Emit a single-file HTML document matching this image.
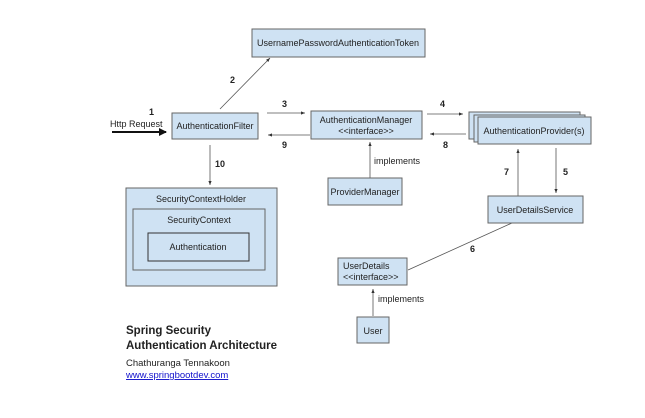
<!DOCTYPE html>
<html><head><meta charset="utf-8"><style>
body{margin:0;background:#fff;}
svg text{font-family:"Liberation Sans",Arial,sans-serif;font-size:9px;fill:#222}
.b{fill:#cfe2f3;stroke:#666;stroke-width:1}
.n{font-weight:bold;font-size:9px}
</style></head><body>
<svg width="645" height="413" viewBox="0 0 645 413" xmlns="http://www.w3.org/2000/svg">
<defs><marker id="a" markerWidth="6" markerHeight="6" refX="5" refY="3" orient="auto"><path d="M0,1 L5,3 L0,5z" fill="#333"/></marker>
<marker id="A" markerWidth="4" markerHeight="4" refX="3.5" refY="2" orient="auto"><path d="M0,0 L4,2 L0,4z" fill="#111"/></marker></defs>
<g stroke="#555" stroke-width="0.8" fill="none">
<line x1="220" y1="109" x2="270" y2="58" marker-end="url(#a)"/>
<line x1="267" y1="113" x2="305" y2="113" marker-end="url(#a)"/>
<line x1="310" y1="135" x2="268" y2="135" marker-end="url(#a)"/>
<line x1="427" y1="114" x2="463" y2="114" marker-end="url(#a)"/>
<line x1="466" y1="134" x2="430" y2="134" marker-end="url(#a)"/>
<line x1="518" y1="196" x2="518" y2="149" marker-end="url(#a)"/>
<line x1="556" y1="148" x2="556" y2="193" marker-end="url(#a)"/>
<line x1="512" y1="223" x2="408" y2="270"/>
<line x1="370" y1="178" x2="370" y2="142" marker-end="url(#a)"/>
<line x1="373" y1="316" x2="373" y2="289" marker-end="url(#a)"/>
<line x1="210" y1="145" x2="210" y2="185" marker-end="url(#a)"/>
</g>
<line x1="112" y1="132" x2="166" y2="132" stroke="#111" stroke-width="2" marker-end="url(#A)"/>
<rect class="b" x="252" y="29" width="173" height="28"/>
<text x="338" y="46" text-anchor="middle">UsernamePasswordAuthenticationToken</text>
<rect class="b" x="172" y="113" width="86" height="26"/>
<text x="215" y="129" text-anchor="middle">AuthenticationFilter</text>
<rect class="b" x="311" y="111" width="111" height="28"/>
<text x="366" y="123" text-anchor="middle">AuthenticationManager</text>
<text x="366" y="134" text-anchor="middle">&lt;&lt;interface&gt;&gt;</text>
<rect class="b" x="328" y="178" width="74" height="27"/>
<text x="365" y="195" text-anchor="middle">ProviderManager</text>
<rect class="b" x="469" y="112" width="111" height="27"/>
<rect class="b" x="474" y="115" width="111" height="27"/>
<rect class="b" x="478" y="117" width="113" height="27"/>
<text x="534" y="134" text-anchor="middle">AuthenticationProvider(s)</text>
<rect class="b" x="488" y="196" width="95" height="27"/>
<text x="535" y="213" text-anchor="middle">UserDetailsService</text>
<rect class="b" x="338" y="258" width="69" height="27"/>
<text x="343" y="269">UserDetails</text>
<text x="343" y="280">&lt;&lt;interface&gt;&gt;</text>
<rect class="b" x="357" y="317" width="32" height="26"/>
<text x="373" y="334" text-anchor="middle">User</text>
<rect class="b" x="126" y="188" width="151" height="98"/>
<text x="201" y="202" text-anchor="middle">SecurityContextHolder</text>
<rect class="b" x="133" y="209" width="132" height="61"/>
<text x="199" y="223" text-anchor="middle">SecurityContext</text>
<rect x="148" y="233" width="101" height="28" fill="#cfe2f3" stroke="#333"/>
<text x="198" y="250" text-anchor="middle">Authentication</text>
<text class="n" x="149" y="115">1</text>
<text x="110" y="127">Http Request</text>
<text class="n" x="230" y="83">2</text>
<text class="n" x="282" y="107">3</text>
<text class="n" x="282" y="148">9</text>
<text class="n" x="215" y="167">10</text>
<text class="n" x="440" y="107">4</text>
<text class="n" x="443" y="148">8</text>
<text class="n" x="504" y="175">7</text>
<text class="n" x="563" y="175">5</text>
<text class="n" x="470" y="252">6</text>
<text x="374" y="164">implements</text>
<text x="378" y="302">implements</text>
<text x="126" y="334" style="font-weight:bold;font-size:11.5px">Spring Security</text>
<text x="126" y="349" style="font-weight:bold;font-size:11.5px">Authentication Architecture</text>
<text x="126" y="366" style="font-size:9.5px">Chathuranga Tennakoon</text>
<text x="126" y="378" style="font-size:9.5px;fill:#11c;text-decoration:underline">www.springbootdev.com</text>
</svg>
</body></html>
